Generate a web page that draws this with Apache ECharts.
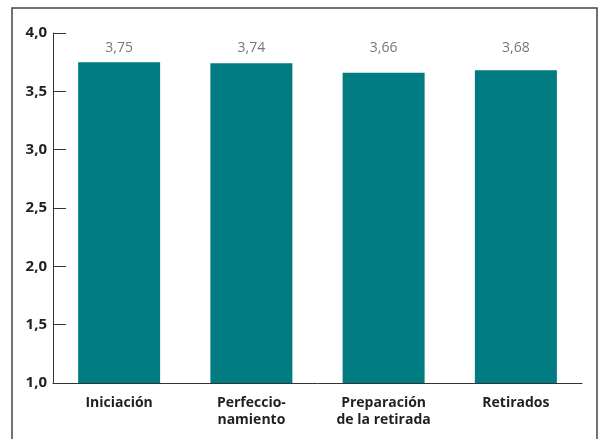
<!DOCTYPE html>
<html><head><meta charset="utf-8">
<script src="https://cdn.jsdelivr.net/npm/echarts@6/dist/echarts.min.js"></script>
<style>html,body{margin:0;padding:0;background:#fff}#c{width:599px;height:439px}</style>
</head><body><div id="c"></div>
<script>
const categories = ['Iniciación', 'Perfeccio-\nnamiento', 'Preparación\nde la retirada', 'Retirados'];
const values = [3.75, 3.74, 3.66, 3.68];
const yMin = 1.0, yMax = 4.0, yStep = 0.5;
const labelLevel = 3.87;

const chart = echarts.init(document.getElementById('c'));
const font = '"Open Sans", "Noto Sans", sans-serif';
chart.setOption({
  animation: false,
  grid: {left: 53, right: 17, top: 33, bottom: 56},
  graphic: [{type: 'rect', shape: {x: 12, y: 8, width: 585, height: 445}, style: {fill: 'none', stroke: '#444', lineWidth: 1.5}, silent: true}],
  xAxis: {
    type: 'category', data: categories,
    axisLine: {lineStyle: {color: '#333', width: 1}},
    axisTick: {inside: true, length: 10, lineStyle: {color: '#333'}},
    axisLabel: {fontFamily: font, fontWeight: 'bold', fontSize: 14, color: '#231f20', margin: 12, lineHeight: 17}
  },
  yAxis: {
    type: 'value', min: yMin, max: yMax, interval: yStep,
    splitLine: {show: false},
    axisLine: {show: true, lineStyle: {color: '#333', width: 1}},
    axisTick: {show: true, inside: true, length: 13, lineStyle: {color: '#333'}},
    axisLabel: {fontFamily: font, fontWeight: 'bold', fontSize: 15, color: '#231f20', margin: 6,
      formatter: v => v.toFixed(1).replace('.', ',')}
  },
  series: [{
    type: 'bar', data: values, barWidth: '62%',
    itemStyle: {color: '#007b82'}
  }, {
    type: 'scatter', symbolSize: 0, silent: true,
    data: values.map((v, i) => [i, labelLevel]),
    label: {show: true, position: 'inside', fontFamily: font, fontSize: 14, color: '#555',
      formatter: p => values[p.dataIndex].toFixed(2).replace('.', ',')}
  }]
});
</script></body></html>
